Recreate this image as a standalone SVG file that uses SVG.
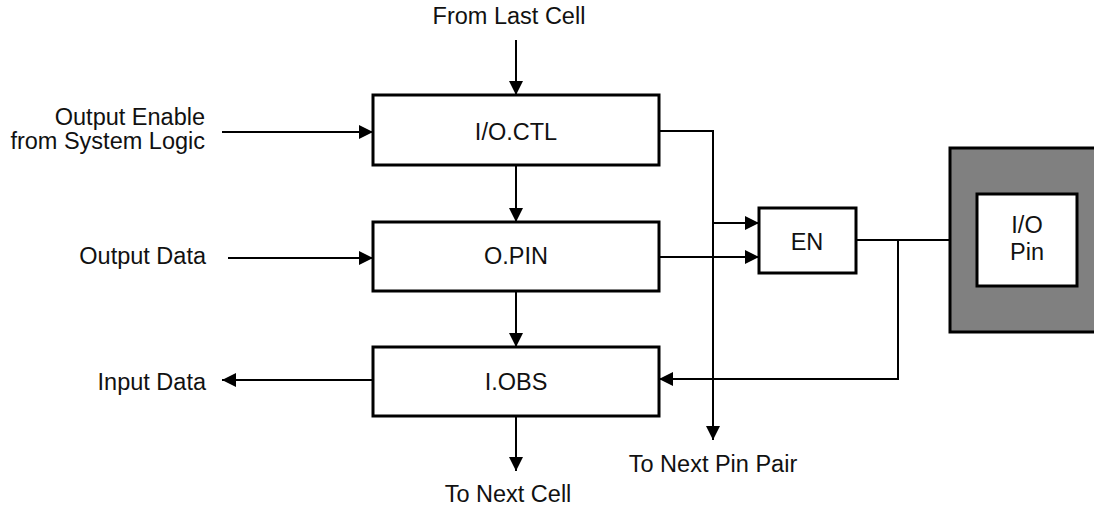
<svg xmlns="http://www.w3.org/2000/svg" width="1094" height="508" viewBox="0 0 1094 508">
<style>
text{font-family:"Liberation Sans",Arial,sans-serif;font-size:23.5px;fill:#111}
.box{fill:#fff;stroke:#000;stroke-width:3}
.c{fill:none;stroke:#000;stroke-width:2}
.m{text-anchor:middle}
.e{text-anchor:end}
</style>
<defs>
<marker id="ah" markerUnits="userSpaceOnUse" markerWidth="14" markerHeight="14" viewBox="0 0 14 14" refX="14" refY="7" orient="auto">
<path d="M0,0 L14,7 L0,14 Z" fill="#000"/>
</marker>
</defs>
<rect width="1094" height="508" fill="#fff"/>
<g id="connectors">
<path class="c" d="M516,40 V95" marker-end="url(#ah)"/>
<path class="c" d="M222,132 H373" marker-end="url(#ah)"/>
<path class="c" d="M516,165 V222" marker-end="url(#ah)"/>
<path class="c" d="M228,258 H373" marker-end="url(#ah)"/>
<path class="c" d="M516,291 V347" marker-end="url(#ah)"/>
<path class="c" d="M373,380 H222" marker-end="url(#ah)"/>
<path class="c" d="M516,417 V471" marker-end="url(#ah)"/>
<path class="c" d="M659,131 H713 V440" marker-end="url(#ah)"/>
<path class="c" d="M713,223 H759" marker-end="url(#ah)"/>
<path class="c" d="M659,257 H759" marker-end="url(#ah)"/>
<path class="c" d="M856,240 H950"/>
<path class="c" d="M898,240 V379 H659" marker-end="url(#ah)"/>
</g>
<g id="labels">
<text class="m" x="509" y="24">From Last Cell</text>
<text class="e" x="205" y="125">Output Enable</text>
<text class="e" x="205" y="149">from System Logic</text>
<text class="e" x="206" y="264">Output Data</text>
<text class="e" x="206" y="390">Input Data</text>
<text class="m" x="508" y="502">To Next Cell</text>
<text class="m" x="713" y="472">To Next Pin Pair</text>
</g>
<g id="ioctl">
<rect class="box" x="373" y="95" width="286" height="70"/>
<text class="m" x="516" y="140">I/O.CTL</text>
</g>
<g id="opin">
<rect class="box" x="373" y="222" width="286" height="69"/>
<text class="m" x="516" y="264">O.PIN</text>
</g>
<g id="iobs">
<rect class="box" x="373" y="347" width="286" height="69"/>
<text class="m" x="516" y="390">I.OBS</text>
</g>
<g id="en">
<rect class="box" x="759" y="208" width="97" height="65"/>
<text class="m" x="807" y="250">EN</text>
</g>
<g id="iopin">
<rect x="950" y="148" width="150" height="184" fill="#808080" stroke="#000" stroke-width="3"/>
<rect class="box" x="977" y="194" width="100" height="92"/>
<text class="m" x="1027" y="233">I/O</text>
<text class="m" x="1027" y="260">Pin</text>
</g>
</svg>
